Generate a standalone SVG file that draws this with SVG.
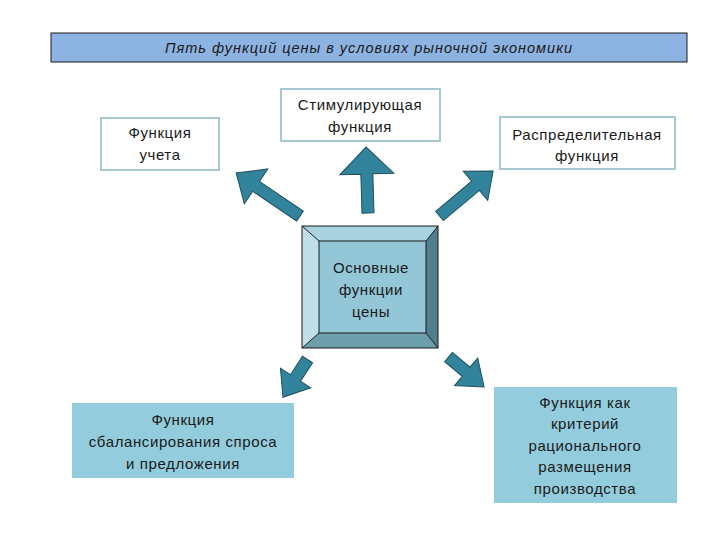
<svg xmlns="http://www.w3.org/2000/svg" width="720" height="540" viewBox="0 0 720 540">
<style>
.t{font-family:"Liberation Sans",Arial,sans-serif;font-size:15px;letter-spacing:0.6px;fill:#1a1a1a;text-anchor:middle}
.ti{font-family:"Liberation Sans",Arial,sans-serif;font-size:14.5px;letter-spacing:1px;font-style:italic;fill:#1a1a1a;text-anchor:middle}
.wb{fill:#fff;stroke:#a9c9d2;stroke-width:2}
.bb{fill:#93cddd}
.ar{fill:#31849b;stroke:#1f4f5e;stroke-width:1}
</style>
<rect width="720" height="540" fill="#fff"/>
<g id="title">
<rect x="51" y="33" width="636" height="29" fill="#8db3e2" stroke="#1b1b1b" stroke-width="1"/>
<text class="ti" x="369" y="53">Пять функций цены в условиях рыночной экономики</text>
</g>
<g id="node-uchet">
<rect class="wb" x="101" y="118" width="118" height="52"/>
<text class="t" x="160" y="138">Функция</text>
<text class="t" x="160" y="160">учета</text>
</g>
<g id="node-stim">
<rect class="wb" x="281" y="89" width="159" height="52"/>
<text class="t" x="360" y="110">Стимулирующая</text>
<text class="t" x="360" y="132">функция</text>
</g>
<g id="node-raspr">
<rect class="wb" x="500" y="117" width="175" height="52"/>
<text class="t" x="587" y="140">Распределительная</text>
<text class="t" x="587" y="161">функция</text>
</g>
<g id="node-center">
<polygon points="302,226 438,226 426,241 319,241" fill="#a9d3e0"/>
<polygon points="302,226 319,241 319,333 302,348" fill="#bfe0ea"/>
<polygon points="438,226 438,348 426,333 426,241" fill="#4e7f8b"/>
<polygon points="302,348 438,348 426,333 319,333" fill="#6c9eab"/>
<rect x="319" y="241" width="107" height="92" fill="#93c6d6"/>
<rect x="302" y="226" width="136" height="122" fill="none" stroke="#1b1b1b" stroke-width="1"/>
<rect x="319" y="241" width="107" height="92" fill="none" stroke="#1b1b1b" stroke-width="1"/>
<path d="M302,226L319,241M438,226L426,241M302,348L319,333M438,348L426,333" stroke="#1b1b1b" stroke-width="1"/>
<text class="t" x="371" y="273">Основные</text>
<text class="t" x="371" y="295">функции</text>
<text class="t" x="371" y="317">цены</text>
</g>
<g id="node-balance">
<rect class="bb" x="72" y="403" width="222" height="75"/>
<text class="t" x="183" y="425">Функция</text>
<text class="t" x="183" y="447">сбалансирования спроса</text>
<text class="t" x="183" y="469">и предложения</text>
</g>
<g id="node-criterion">
<rect class="bb" x="494" y="387" width="183" height="116"/>
<text class="t" x="585" y="408">Функция как</text>
<text class="t" x="585" y="429">критерий</text>
<text class="t" x="585" y="451">рационального</text>
<text class="t" x="585" y="472">размещения</text>
<text class="t" x="585" y="494">производства</text>
</g>
<g id="connectors">
<polygon class="ar" transform="translate(300,216) rotate(214)" points="0,-6 53,-6 53,-21 77,0 53,21 53,6 0,6"/>
<polygon class="ar" transform="translate(368,213) rotate(268.3)" points="0,-6 39,-6 39,-27 66,0 39,27 39,6 0,6"/>
<polygon class="ar" transform="translate(439.5,216) rotate(-40)" points="0,-6 47,-6 47,-19 70,0 47,19 47,6 0,6"/>
<polygon class="ar" transform="translate(307.5,359.5) rotate(123)" points="0,-6 22,-6 22,-18 45,0 22,18 22,6 0,6"/>
<polygon class="ar" transform="translate(448.5,357) rotate(40)" points="0,-6 23,-6 23,-18 46.5,0 23,18 23,6 0,6"/>
</g>
</svg>
